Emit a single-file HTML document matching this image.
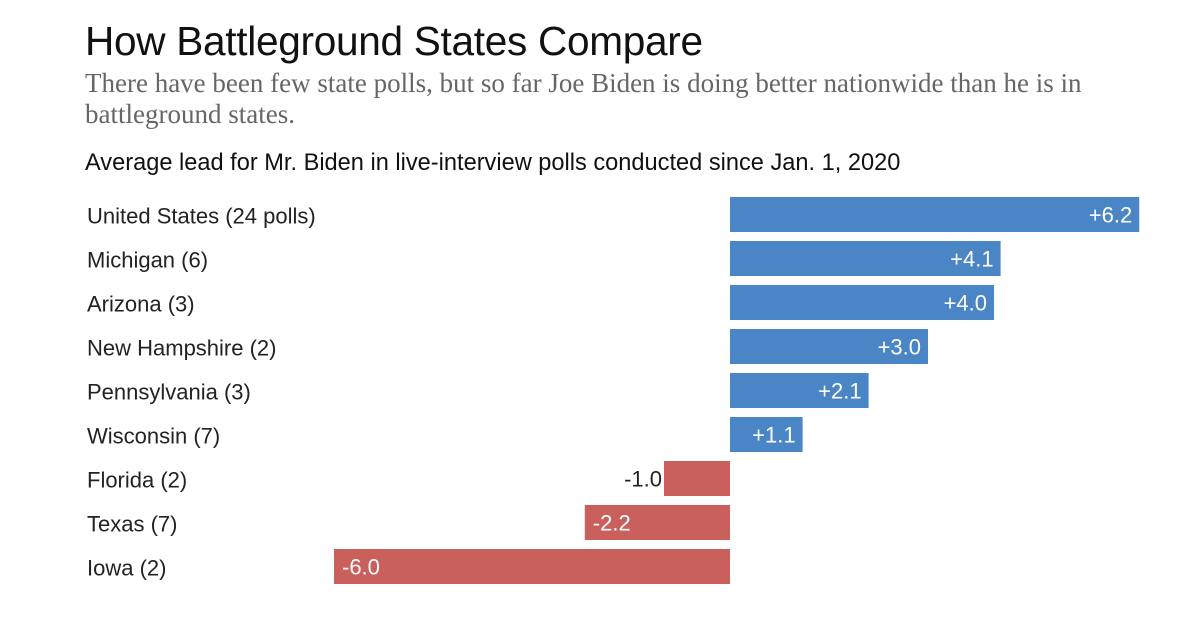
<!DOCTYPE html>
<html><head><meta charset="utf-8"><style>
body{margin:0;background:#fff;width:1200px;height:640px;overflow:hidden;font-family:"Liberation Sans",sans-serif}
h1{position:absolute;left:85px;top:18px;margin:0;font-weight:400;font-size:40.6px;color:#111;letter-spacing:-0.3px}
.sub{position:absolute;left:85px;top:68px;width:1100px;margin:0;font-family:"Liberation Serif",serif;font-size:27px;line-height:31px;color:#666}
.lbl{position:absolute;left:85px;top:150px;font-size:23.6px;color:#111;white-space:nowrap}
</style></head><body>
<h1>How Battleground States Compare</h1>
<p class="sub">There have been few state polls, but so far Joe Biden is doing better nationwide than he is in battleground states.</p>
<div class="lbl">Average lead for Mr. Biden in live-interview polls conducted since Jan. 1, 2020</div>
<svg id="chart" width="1200" height="640" style="position:absolute;left:0;top:0"></svg>
<script>
const categories=["United States (24 polls)","Michigan (6)","Arizona (3)","New Hampshire (2)","Pennsylvania (3)","Wisconsin (7)","Florida (2)","Texas (7)","Iowa (2)"];
const values=[6.2,4.1,4.0,3.0,2.1,1.1,-1.0,-2.2,-6.0];
const labels=["+6.2","+4.1","+4.0","+3.0","+2.1","+1.1","-1.0","-2.2","-6.0"];
const svg=document.getElementById('chart');
const NS="http://www.w3.org/2000/svg";
const x0=730,scale=66,top0=197,step=44,bh=35;
function xs(v){return x0+v*scale;}
function ys(i){return top0+i*step;}
categories.forEach((c,i)=>{
  const y=ys(i),v=values[i];
  const t=document.createElementNS(NS,'text');
  
  
  t.setAttribute('x',87);t.setAttribute('y',y+bh/2+9);
  t.setAttribute('font-size','22');t.setAttribute('fill','#222');
  t.setAttribute('font-family','Liberation Sans, sans-serif');
  t.textContent=c;svg.appendChild(t);
  const r=document.createElementNS(NS,'rect');
  
  
  const a=Math.min(xs(0),xs(v)),w=Math.abs(xs(v)-xs(0));
  r.setAttribute('x',a);r.setAttribute('y',y);r.setAttribute('width',w);r.setAttribute('height',bh);
  r.setAttribute('fill',v>=0?'#4a86c5':'#c9605c');svg.appendChild(r);
  const l=document.createElementNS(NS,'text');
  
  
  l.setAttribute('font-size','22');l.setAttribute('font-family','Liberation Sans, sans-serif');
  l.setAttribute('y',y+bh/2+8);
  if(v>=0){l.setAttribute('x',xs(v)-7);l.setAttribute('text-anchor','end');l.setAttribute('fill','#fff');}
  else if(w<80){l.setAttribute('x',xs(v)-2);l.setAttribute('text-anchor','end');l.setAttribute('fill','#222');}
  else{l.setAttribute('x',xs(v)+8);l.setAttribute('fill','#fff');}
  l.textContent=labels[i];svg.appendChild(l);
});
</script>
</body></html>
